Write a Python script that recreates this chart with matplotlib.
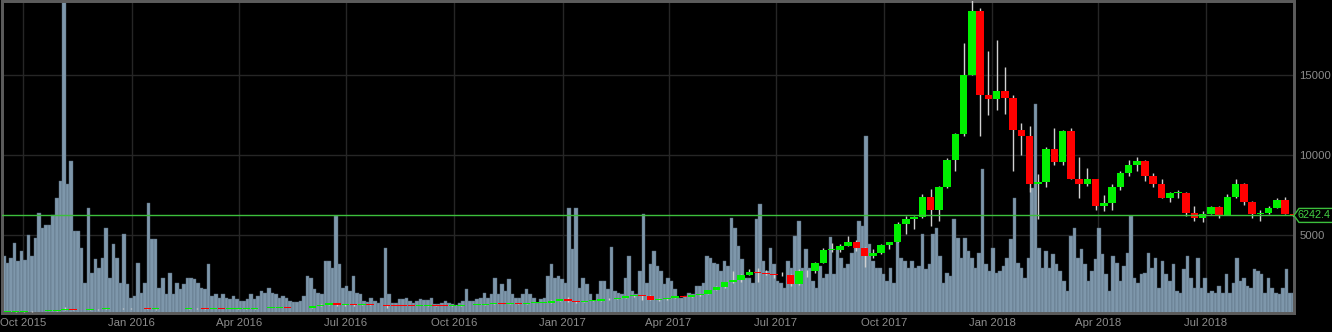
import matplotlib
matplotlib.use('Agg')
import matplotlib.pyplot as plt
import matplotlib.dates as mdates
import matplotlib.transforms as mtransforms
from matplotlib.patches import Polygon
import pandas as pd

# weekly candles (Monday start)
week_start = '2015-09-14'
opens = [230, 232, 236, 238, 247, 265, 285, 325, 385, 335, 322, 370, 390, 445, 440, 425,
         430, 450, 385, 405, 370, 375, 405, 435, 435, 400, 415, 410, 415, 420, 420, 428,
         448, 452, 458, 455, 440, 470, 575, 665, 740, 660, 660, 650, 665, 660, 625, 590,
         585, 580, 575, 605, 610, 608, 600, 612, 618, 640, 655, 705, 710, 705, 740, 735,
         765, 770, 785, 910,
         990, 900, 825, 900, 915, 1020, 1000, 1055, 1180, 1280, 1230, 960, 1040, 1080,
         1180, 1170, 1240, 1340, 1580, 1740, 2050, 2200, 2530, 2700, 2650, 2590, 2500,
         2520, 1950, 2750, 2750, 3250, 4100, 4100, 4350, 4600, 4200, 3700, 3900, 4400,
         4600, 5700, 6000, 6150, 7400, 6600, 8000, 9700, 11300, 15000, 19000, 13800,
         13500, 14000, 13600, 11600, 11200, 8200, 8300, 10400, 9600, 11500, 8500, 8200,
         8500, 6800, 7000, 8000, 8900, 9400, 9650, 8700, 8200, 7350, 7650, 7650, 6400,
         6100, 6350, 6750, 6250, 7400, 8200, 7050, 6300, 6400, 6700, 7200, 6300]
highs = [235, 240, 241, 248, 270, 288, 335, 500, 390, 340, 380, 400, 470, 465, 460, 440,
         460, 455, 420, 415, 390, 410, 440, 440, 445, 420, 420, 420, 425, 425, 430, 450,
         470, 465, 460, 458, 475, 590, 700, 780, 760, 690, 680, 680, 680, 660, 630, 600,
         590, 590, 610, 630, 615, 610, 615, 620, 645, 660, 720, 740, 720, 750, 745, 770,
         775, 790, 935, 1000,
         1150, 910, 920, 925, 1035, 1060, 1060, 1190, 1290, 1290, 1250, 1050, 1100, 1200,
         1220, 1250, 1350, 1600, 1800, 2100, 2750, 2580, 2900, 2980, 2800, 2600, 2700,
         2550, 2900, 2800, 3300, 4200, 4500, 4450, 4950, 4700, 4250, 4120, 4450, 4600,
         5850, 6200, 6200, 7600, 7900, 8100, 9800, 11400, 17000, 19700, 19200, 16500,
         17200, 15500, 13800, 12000, 11800, 8800, 10500, 11700, 11600, 11700, 9900, 9200,
         8500, 7500, 8200, 9000, 9700, 9900, 9700, 8900, 8500, 7700, 7800, 7700, 6800,
         6500, 6800, 6800, 7600, 8500, 8250, 7150, 6600, 6800, 7300, 7400, 6350]
lows = [226, 226, 235, 235, 245, 262, 280, 320, 300, 310, 315, 355, 385, 430, 420, 415,
        425, 375, 360, 365, 365, 370, 400, 400, 395, 395, 405, 405, 410, 415, 418, 425,
        440, 440, 445, 435, 435, 465, 570, 650, 560, 610, 610, 640, 650, 620, 480, 580,
        565, 570, 570, 600, 600, 590, 595, 605, 615, 630, 650, 680, 695, 700, 720, 730,
        755, 765, 780, 890,
        850, 760, 820, 880, 910, 950, 995, 1050, 1170, 970, 950, 900, 930, 1070,
        1160, 1160, 1230, 1320, 1560, 1680, 2040, 2100, 2500, 2100, 2500, 2350, 2480,
        1850, 1900, 2400, 2650, 3250, 3950, 3950, 4300, 4000, 3000, 3550, 3850, 4150,
        4580, 5100, 5400, 6100, 5600, 5900, 7950, 9000, 11200, 15000, 11200, 12500,
        12800, 12600, 9000, 10000, 7700, 6000, 8000, 9400, 9400, 8500, 7300, 8100,
        6600, 6500, 6600, 7800, 8700, 9000, 8400, 8000, 7300, 7050, 7350, 6200, 5900,
        5800, 6300, 6100, 6250, 7350, 6900, 6100, 5900, 6300, 6700, 6300, 6200]
closes = opens[1:] + [6242.4]

# volume, 3-day buckets
vol_start = '2015-09-13'
volume = [57, 50, 55, 70, 52, 62, 53, 78, 57, 75, 100, 85, 88, 88, 98, 115, 132, 311, 129, 152,
          82, 82, 65, 30, 105, 40, 54, 45, 55, 85, 35, 69, 55, 30, 79, 29, 15, 17, 50, 20,
          30, 110, 74, 74, 25, 35, 19, 40, 19, 30, 24, 29, 35,
          35, 34, 30, 25, 24, 49, 17, 19, 15, 19, 15, 14, 17, 14, 12, 12, 14, 19, 14, 17,
          22, 20, 25, 20, 19, 15, 17, 15, 12, 11, 11, 12, 17, 37, 35, 24, 20, 19, 52, 52,
          45, 97, 49, 25, 27, 22, 37, 20, 19, 12, 11, 15,
          12, 10, 15, 65, 19, 10, 10, 14, 14, 15, 12, 10, 12, 14, 13, 13, 15, 9, 9, 10,
          12, 10, 9, 8, 10, 12, 24, 12, 12, 14, 15, 20, 15, 19, 35, 19, 29, 22, 34, 19,
          15, 15, 19, 24, 19, 15, 10, 14, 15, 37, 49, 35,
          37, 34, 30, 105, 64, 105, 25, 35, 29, 19, 12, 19, 32, 32, 24, 66, 22, 20, 19, 35,
          57, 22, 19, 42, 99, 30, 49, 62, 47, 42, 29, 35, 32, 24, 15, 15, 17, 20, 19, 27,
          27, 30, 57, 55, 50, 49, 42, 52, 47, 95, 85, 67, 54,
          35, 35, 30, 94, 109, 52, 42, 65, 49, 32, 30, 25, 52, 45, 77, 92, 45, 64, 45, 32,
          25, 47, 35, 39, 76, 39, 65, 55, 45, 49, 60, 69, 92, 87, 177, 69, 52, 45, 45, 39,
          32, 45, 30, 72, 55, 52, 45, 52, 45, 47, 79, 44, 49,
          79, 85, 57, 30, 40, 37, 94, 75, 55, 75, 62, 55, 45, 60, 144, 49, 42, 65, 40, 42,
          47, 55, 74, 115, 50, 45, 35, 55, 125, 209, 65, 45, 62, 45, 59, 49, 42, 32, 22, 77,
          85, 55, 64, 49, 32, 42, 54, 85, 59, 39, 22, 57,
          50, 32, 47, 60, 97, 35, 30, 39, 40, 60, 45, 55, 25, 52, 39, 32, 49, 22, 20, 44,
          57, 35, 25, 55, 25, 35, 20, 22, 20, 27, 20, 39, 20, 30, 55, 32, 35, 27, 25, 44,
          42, 39, 20, 35, 25, 20, 19, 25, 44, 20, 20]

last_price = 6242.4
price_ticks = [5000, 10000, 15000]


def main():
    weeks = mdates.date2num(pd.date_range(week_start, periods=len(opens), freq='7D')) + 3.5
    vdays = mdates.date2num(pd.date_range(vol_start, periods=len(volume), freq='3D')) + 1.5

    fig = plt.figure(figsize=(13.32, 3.32), dpi=100, facecolor='black')
    ax_vol = fig.add_axes([2 / 1332, 19.3 / 332, 1292 / 1332, 311.7 / 332])
    ax_vol.set_facecolor('black')
    ax = ax_vol.twinx()

    # volume bars
    ax_vol.bar(vdays, volume, width=3.0, color='#7e97ab', edgecolor='#56687a',
               linewidth=0.3, zorder=2)
    ax_vol.set_ylim(0, 312)
    ax_vol.set_yticks([])

    # grid (below bars)
    ax_vol.grid(axis='x', color='#262626', linewidth=1, zorder=0)
    ax_vol.set_axisbelow(True)
    x0 = mdates.date2num(pd.Timestamp('2015-09-13'))
    x1 = mdates.date2num(pd.Timestamp('2018-09-14'))
    ax_vol.hlines(price_ticks, x0, x1, transform=ax.transData, color='#262626',
                  linewidth=1, zorder=1)

    # candles
    up = [c >= o for o, c in zip(opens, closes)]
    ax.vlines(weeks, lows, highs, color='#d0d0d0', linewidth=1, zorder=3)
    bottoms = [min(o, c) for o, c in zip(opens, closes)]
    heights = [max(abs(c - o), 40) for o, c in zip(opens, closes)]
    colors = ['#00f000' if u else '#ff0000' for u in up]
    ax.bar(weeks, heights, bottom=bottoms, width=6.4, color=colors, linewidth=0, zorder=4)

    ax.axhline(last_price, color='#3cbf3c', linewidth=1, zorder=5)

    ax.set_ylim(162, 19644)
    ax.set_yticks(price_ticks)
    ax.set_xlim(x0, x1)
    ax.tick_params(axis='y', length=0, pad=4, labelcolor='#8c8c8c', labelsize=8.2)
    for lab in ax.get_yticklabels():
        lab.set_family('Liberation Sans')

    ax_vol.xaxis.set_major_locator(mdates.MonthLocator(bymonth=[1, 4, 7, 10]))
    ax_vol.xaxis.set_major_formatter(mdates.DateFormatter('%b %Y'))
    ax_vol.tick_params(axis='x', length=0, pad=4, labelcolor='#8c8c8c', labelsize=8.2)
    for lab in ax_vol.get_xticklabels():
        lab.set_family('Liberation Sans')

    for a in (ax, ax_vol):
        for s in a.spines.values():
            s.set_color('#5c5c5c')
            s.set_linewidth(2)

    # last price tag on the right edge
    xd = ax.transAxes.transform((1, 0))[0]
    yd = ax.transData.transform((x0, last_price))[1]
    tag = Polygon([(xd, yd), (xd + 5, yd + 7), (xd + 40, yd + 7),
                   (xd + 40, yd - 7), (xd + 5, yd - 7)], closed=True,
                  transform=mtransforms.IdentityTransform(), fc='black',
                  ec='#3cbf3c', lw=1, zorder=6)
    fig.add_artist(tag)
    fig.text(xd + 4, yd, f'{last_price}', transform=mtransforms.IdentityTransform(),
             va='center', ha='left', color='#44d044', fontsize=7.8,
             family='Liberation Sans', zorder=7)

    fig.savefig('out.png', dpi=100, facecolor='black')


if __name__ == "__main__":
    main()
